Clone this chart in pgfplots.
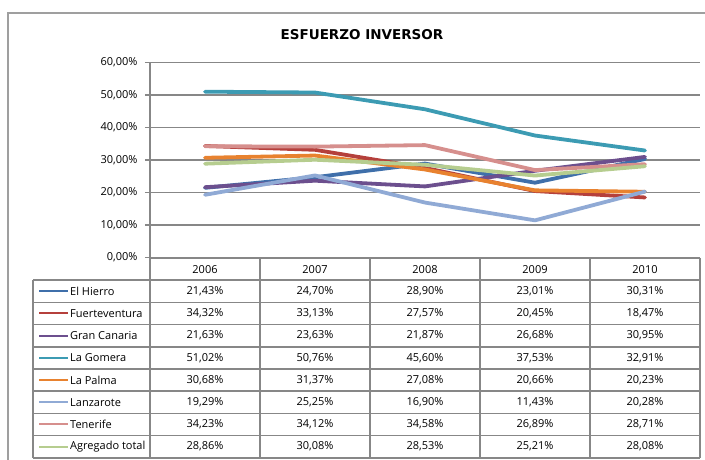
\documentclass[border=0pt]{standalone}
\usepackage{fontspec}
\setmainfont{Open Sans}
\newfontfamily\titlefont{DejaVu Sans}
\usepackage{pgfplots}
\usepackage{pgfplotstable}
\pgfplotsset{compat=1.18}

\definecolor{cHierro}{HTML}{3F6FAA}
\definecolor{cFuerte}{HTML}{B5403C}
\definecolor{cGran}{HTML}{6C4F8E}
\definecolor{cGomera}{HTML}{3C9BB3}
\definecolor{cPalma}{HTML}{E8822F}
\definecolor{cLanza}{HTML}{90AAD5}
\definecolor{cTene}{HTML}{D68F8D}
\definecolor{cAgre}{HTML}{B6CD8F}
\definecolor{cGrid}{HTML}{878787}

\pgfplotstableread{
x Hierro Fuerte Gran Gomera Palma Lanza Tene Agre
1 21.43 34.32 21.63 51.02 30.68 19.29 34.23 28.86
2 24.70 33.13 23.63 50.76 31.37 25.25 34.12 30.08
3 28.90 27.57 21.87 45.60 27.08 16.90 34.58 28.53
4 23.01 20.45 26.68 37.53 20.66 11.43 26.89 25.21
5 30.31 18.47 30.95 32.91 20.23 20.28 28.71 28.08
}\data

\begin{document}
\begin{tikzpicture}[x=1pt,y=1pt]
\useasboundingbox (0,0) rectangle (705,460);
% outer frame
\draw[cGrid!80, line width=1.6pt] (8,-10) -- (8,447) -- (730,447);
% title
\node[font=\fontsize{13.5}{16}\titlefont\bfseries] at (362,425.5) {ESFUERZO INVERSOR};

\begin{axis}[
  at={(150pt,202.5pt)}, anchor=south west,
  scale only axis, width=550pt, height=195pt,
  xmin=0.5, xmax=5.5, ymin=0, ymax=60,
  clip=false,
  axis x line*=bottom, axis y line*=left,
  axis line style={cGrid, line width=1.6pt, -},
  xtick=\empty,
  ytick={0,10,...,60},
  ymajorgrids,
  grid style={cGrid, line width=1.6pt},
  tick align=outside, major tick length=5pt,
  tick style={cGrid, line width=1.6pt},
  yticklabel={\pgfmathprintnumber[fixed,fixed zerofill,precision=2,use comma,assume math mode=true]{\tick}\%},
  yticklabel style={font=\fontsize{11}{13}\selectfont, text=black, xshift=-4pt},
  every axis plot/.append style={line width=3.8pt, line join=round, line cap=round, mark=none},
]
\addplot[cHierro] table[x=x,y=Hierro]{\data};
\addplot[cFuerte] table[x=x,y=Fuerte]{\data};
\addplot[cGran] table[x=x,y=Gran]{\data};
\addplot[cGomera] table[x=x,y=Gomera]{\data};
\addplot[cPalma] table[x=x,y=Palma]{\data};
\addplot[cLanza] table[x=x,y=Lanza]{\data};
\addplot[cTene] table[x=x,y=Tene]{\data};
\addplot[cAgre] table[x=x,y=Agre]{\data};
\end{axis}

% data table
\tikzset{tbl/.style={cGrid, line width=1.6pt}}
\def\rh{22.2}
\foreach \k in {1,...,9}{
  \draw[tbl] (33,{202-\k*\rh}) -- (700,{202-\k*\rh});
}
\draw[tbl] (150,202) -- (700,202);
\foreach \xx in {150,260,370,480,590,700}{
  \draw[tbl] (\xx,202) -- (\xx,{202-9*\rh});
}
\draw[tbl] (33,{202-\rh}) -- (33,{202-9*\rh});
% header
\foreach \yr [count=\j from 0] in {2006,2007,2008,2009,2010}{
  \node[font=\fontsize{11}{13}\selectfont] at ({205+110*\j},{202-0.5*\rh}) {\yr};
}
% rows
\newcommand\tabrow[8]{%
  \pgfmathsetmacro\ky{round(202-(#1+0.5)*\rh)}%
  \draw[#2, line width=2pt] (39,\ky) -- (68,\ky);
  \node[anchor=west, inner sep=0pt, font=\fontsize{11}{13}\selectfont] at (70,{202-(#1+0.5)*\rh}) {#3};
  \node[font=\fontsize{11}{13}\selectfont] at (205,{202-(#1+0.5)*\rh}) {#4};
  \node[font=\fontsize{11}{13}\selectfont] at (315,{202-(#1+0.5)*\rh}) {#5};
  \node[font=\fontsize{11}{13}\selectfont] at (425,{202-(#1+0.5)*\rh}) {#6};
  \node[font=\fontsize{11}{13}\selectfont] at (535,{202-(#1+0.5)*\rh}) {#7};
  \node[font=\fontsize{11}{13}\selectfont] at (645,{202-(#1+0.5)*\rh}) {#8};
}
\tabrow{1}{cHierro}{El Hierro}{21,43\%}{24,70\%}{28,90\%}{23,01\%}{30,31\%}
\tabrow{2}{cFuerte}{Fuerteventura}{34,32\%}{33,13\%}{27,57\%}{20,45\%}{18,47\%}
\tabrow{3}{cGran}{Gran Canaria}{21,63\%}{23,63\%}{21,87\%}{26,68\%}{30,95\%}
\tabrow{4}{cGomera}{La Gomera}{51,02\%}{50,76\%}{45,60\%}{37,53\%}{32,91\%}
\tabrow{5}{cPalma}{La Palma}{30,68\%}{31,37\%}{27,08\%}{20,66\%}{20,23\%}
\tabrow{6}{cLanza}{Lanzarote}{19,29\%}{25,25\%}{16,90\%}{11,43\%}{20,28\%}
\tabrow{7}{cTene}{Tenerife}{34,23\%}{34,12\%}{34,58\%}{26,89\%}{28,71\%}
\tabrow{8}{cAgre}{Agregado total}{28,86\%}{30,08\%}{28,53\%}{25,21\%}{28,08\%}
\end{tikzpicture}
\end{document}
